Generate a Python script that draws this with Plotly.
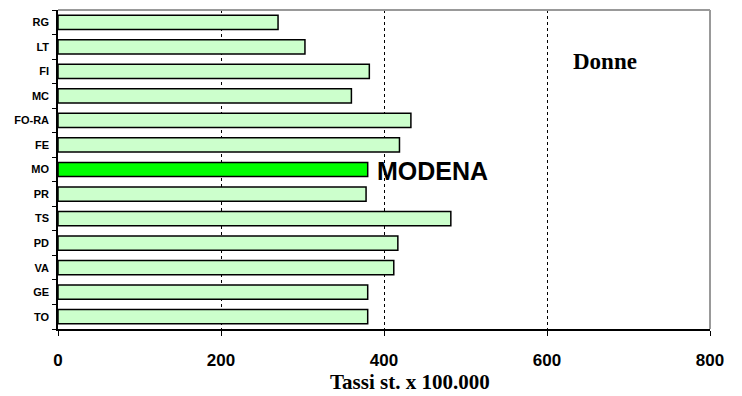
import plotly.graph_objects as go

# Standardised rates (per 100,000), women, by area
regions = ["TO", "GE", "VA", "PD", "TS", "PR", "MO", "FE", "FO-RA", "MC", "FI", "LT", "RG"]
rates = [380, 380, 412, 417, 482, 378, 380, 419, 433, 360, 382, 303, 270]
highlight = "MO"
x_ticks = [0, 200, 400, 600, 800]

colors = ["#00FF00" if r == highlight else "#CCFFCC" for r in regions]

fig = go.Figure()
fig.add_trace(go.Bar(
    y=regions,
    x=rates,
    orientation="h",
    marker=dict(color=colors, line=dict(color="black", width=1.5)),
    hoverinfo="skip",
))

fig.update_layout(
    width=742,
    height=396,
    margin=dict(l=58, r=32, t=10, b=67),
    paper_bgcolor="white",
    plot_bgcolor="white",
    bargap=0.42,
    showlegend=False,
    xaxis=dict(
        range=[0, 800],
        tickvals=x_ticks,
        ticktext=[str(v) for v in x_ticks],
        showgrid=True,
        gridcolor="black",
        griddash="dot",
        gridwidth=1,
        zeroline=False,
        showline=True,
        linecolor="black",
        linewidth=1.5,
        ticks="outside",
        ticklen=5,
        tickcolor="black",
        ticklabelstandoff=10,
        automargin=False,
        tickfont=dict(family="Liberation Sans", size=17, color="black", weight="bold"),
        fixedrange=True,
    ),
    yaxis=dict(
        type="category",
        categoryorder="array",
        categoryarray=regions,
        showgrid=False,
        showline=True,
        linecolor="black",
        linewidth=1.5,
        ticks="outside",
        tickson="boundaries",
        ticklen=4,
        tickcolor="black",
        ticklabelstandoff=5,
        automargin=False,
        tickfont=dict(family="Liberation Sans", size=11, color="black", weight="bold"),
        fixedrange=True,
    ),
)

# light grey frame on the top and right sides of the plot area
fig.add_shape(type="line", xref="paper", yref="paper", x0=0, x1=1, y0=1, y1=1,
              line=dict(color="#999999", width=2), layer="above")
fig.add_shape(type="line", xref="paper", yref="paper", x0=1, x1=1, y0=0, y1=1,
              line=dict(color="#999999", width=2), layer="above")

# x-axis title
fig.add_annotation(
    x=432, y=-0.166, xref="x", yref="paper",
    text="<b>Tassi st. x 100.000</b>", showarrow=False,
    xanchor="center", yanchor="middle",
    font=dict(family="Liberation Serif", size=21, color="black"),
)
fig.add_annotation(
    x=389, y=highlight, xref="x", yref="y",
    text="<b>MODENA</b>", showarrow=False, xanchor="left", yanchor="middle",
    yshift=-1,
    font=dict(family="Liberation Sans", size=25, color="black"),
)
fig.add_annotation(
    x=671, y=0.84, xref="x", yref="paper",
    text="<b>Donne</b>", showarrow=False, xanchor="center", yanchor="middle",
    font=dict(family="Liberation Serif", size=23, color="black"),
)

fig.write_html("out.html")
